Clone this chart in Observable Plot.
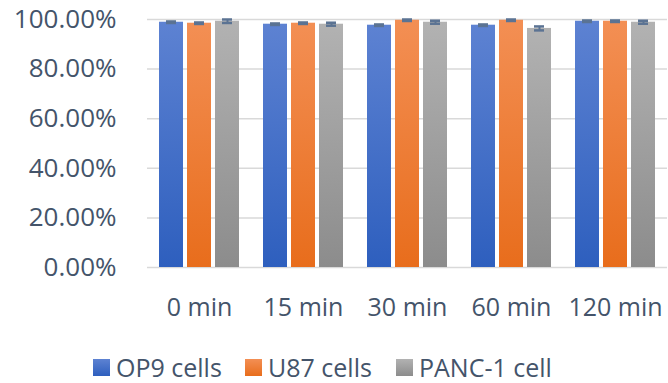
<!DOCTYPE html>
<html><head><meta charset="utf-8">
<script src="https://cdn.jsdelivr.net/npm/d3@7"></script>
<script src="https://cdn.jsdelivr.net/npm/@observablehq/plot@0.6"></script>
<style>
body{margin:0;background:#fff;font-family:"Open Sans",sans-serif;}
#legend{position:relative;width:668px;height:53px;}
.sw{position:absolute;top:29px;width:17px;height:17px;}
.lab{position:absolute;top:17px;font-size:25px;line-height:40px;color:#44546a;white-space:nowrap;}
</style>
</head><body><div id="chart"></div><div id="legend"></div><script>
const times = ["0 min","15 min","30 min","60 min","120 min"];
const series = ["OP9 cells","U87 cells","PANC-1 cell"];
const op9 = [98.9,98.1,97.7,97.7,99.3];
const u87 = [98.5,98.5,99.7,99.7,99.3];
const panc = [99.3,98.1,98.9,96.4,98.9];
const op9Err = [0.3,0.3,0.3,0.3,0.3];
const u87Err = [0.3,0.3,0.3,0.3,0.3];
const pancErr = [0.7,0.6,0.6,0.8,0.6];
const yTicks = [0,0.2,0.4,0.6,0.8,1];
const topColors = ["#5d82d2","#f38f54","#b2b2b2"];
const bottomColors = ["#2e5fbe","#e86d1c","#8c8c8c"];

const vals = [op9,u87,panc], errs = [op9Err,u87Err,pancErr];
const rows = [];
times.forEach((t,i)=>series.forEach((s,j)=>rows.push({time:t,series:s,value:vals[j][i]/100,err:errs[j][i]/100})));
const lo = d=>d.value-d.err, hi = d=>d.value+d.err;
const fmt = d3.format(".2%");

const plot = Plot.plot({
  width:668, height:330, marginTop:19, marginBottom:63, marginLeft:145, marginRight:0,
  style:{fontFamily:"Open Sans", fontSize:"26px", color:"#44546a", background:"#fff", overflow:"visible"},
  fx:{domain:times, padding:0, label:null},
  x:{domain:series, paddingInner:0.16, paddingOuter:0.38, axis:null},
  y:{domain:[0,1], label:null},
  color:{domain:series, range:series.map((d,i)=>`url(#grad${i})`)},
  marks:[
    Plot.gridY(yTicks,{stroke:"#d9d9d9", strokeOpacity:1, strokeWidth:1.5}),
    Plot.axisY(yTicks,{tickSize:0, tickPadding:31, tickFormat:fmt, fontSize:26, fill:"#44546a", label:null}),
    Plot.barY(rows,{fx:"time", x:"series", y:"value", fill:"series"}),
    Plot.ruleX(rows,{fx:"time", x:"series", y1:lo, y2:hi, stroke:"#5b7393", strokeWidth:2}),
    Plot.tickY(rows,{fx:"time", x:"series", y:lo, stroke:"#5b7393", strokeWidth:2.5, insetLeft:7, insetRight:7}),
    Plot.tickY(rows,{fx:"time", x:"series", y:hi, stroke:"#5b7393", strokeWidth:2.5, insetLeft:7, insetRight:7}),
    Plot.axisFx({anchor:"bottom", tickSize:0, tickPadding:31, fontSize:25, fill:"#44546a", label:null})
  ]
});
const defs = d3.select(plot).insert("defs",":first-child");
series.forEach((s,i)=>{
  const g = defs.append("linearGradient").attr("id",`grad${i}`).attr("x1",0).attr("y1",0).attr("x2",0).attr("y2",1);
  g.append("stop").attr("offset","0%").attr("stop-color",topColors[i]);
  g.append("stop").attr("offset","100%").attr("stop-color",bottomColors[i]);
});
document.getElementById("chart").appendChild(plot);

const legendX = [[93,116],[245,268],[396,419]];
const leg = document.getElementById("legend");
series.forEach((s,i)=>{
  const sw = document.createElement("div");
  sw.className="sw"; sw.style.left=legendX[i][0]+"px";
  sw.style.background=`linear-gradient(${topColors[i]},${bottomColors[i]})`;
  const lab = document.createElement("div");
  lab.className="lab"; lab.style.left=legendX[i][1]+"px"; lab.textContent=s;
  leg.appendChild(sw); leg.appendChild(lab);
});
</script></body></html>
